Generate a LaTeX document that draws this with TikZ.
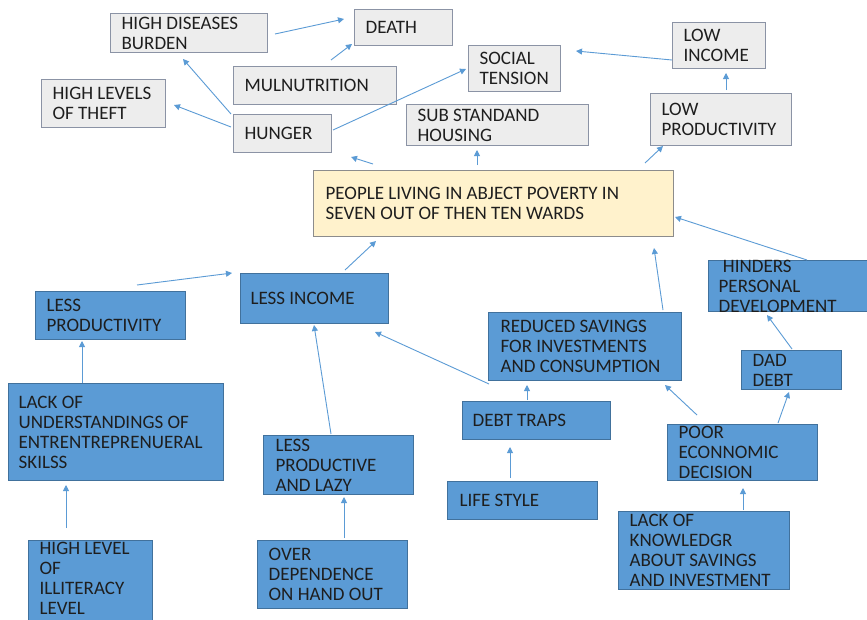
\documentclass[tikz,border=0pt]{standalone}
\usepackage{fontspec}
\setmainfont{Carlito}
\usetikzlibrary{arrows.meta}

\definecolor{greyfill}{HTML}{EDEDED}
\definecolor{greyedge}{HTML}{8B93A5}
\definecolor{bluefill}{HTML}{5B9BD5}
\definecolor{blueedge}{HTML}{41719C}
\definecolor{creamfill}{HTML}{FFF2CC}
\definecolor{creamedge}{HTML}{8C8C8C}
\definecolor{arrowblue}{HTML}{5B9BD5}
\definecolor{ink}{HTML}{1E1E1E}

% box body: width, height, text (optional left padding); text is centred vertically
\newcommand\cell[4][11]{\parbox[c][#3pt][c]{#2pt}{\fontsize{19}{20}\selectfont\raggedright\leftskip=#1pt\relax #4}}

\tikzset{
  box/.style={inner sep=0pt, line width=1.3pt, anchor=north west, text=ink},
  greybox/.style={box, fill=greyfill, draw=greyedge},
  bluebox/.style={box, fill=bluefill, draw=blueedge},
  creambox/.style={box, fill=creamfill, draw=creamedge},
  arr/.style={draw=arrowblue, line width=0.9pt, -{Triangle[length=6pt,width=6pt]}},
}

\begin{document}
\begin{tikzpicture}[x=1pt, y=-1pt]
\fill[white] (0,0) rectangle (867,619);
\useasboundingbox (0,0) rectangle (867,619);

% effects
\node[greybox] (hdb) at (110,13) {\cell{157}{39}{HIGH DISEASES\\BURDEN}};
\node[greybox] (death) at (354,9) {\cell{98}{36}{DEATH}};
\node[greybox] (muln) at (233,66) {\cell{163}{38}{MULNUTRITION}};
\node[greybox] (theft) at (41,79) {\cell{124}{48}{HIGH LEVELS\\OF THEFT}};
\node[greybox] (hunger) at (233,114) {\cell{98}{38}{HUNGER}};
\node[greybox] (social) at (468,45) {\cell{92}{46}{SOCIAL\\TENSION}};
\node[greybox] (housing) at (406,104) {\cell{182}{41}{SUB STANDAND\\HOUSING}};
\node[greybox] (lowinc) at (672,22) {\cell{93}{46}{LOW\\INCOME}};
\node[greybox] (lowprod) at (650,93) {\cell{141}{52}{LOW\\PRODUCTIVITY}};

% core problem
\node[creambox] (main) at (313,170) {\cell[12]{360}{66}{PEOPLE LIVING IN ABJECT POVERTY IN\\SEVEN OUT OF THEN TEN WARDS}};

% causes
\node[bluebox] (lessprod) at (35,291) {\cell{150}{48}{LESS\\PRODUCTIVITY}};
\node[bluebox] (lessinc) at (240,273) {\cell[10]{148}{50}{LESS INCOME}};
\node[bluebox] (lackund) at (8,383) {\cell[10]{215}{97}{LACK OF\\UNDERSTANDINGS OF\\ENTRENTREPRENUERAL\\SKILSS}};
\node[bluebox] (lazy) at (263,435) {\cell[12]{150}{59}{LESS\\PRODUCTIVE\\AND LAZY}};
\node[bluebox] (illit) at (28,540) {\cell{124}{84}{HIGH LEVEL\\OF\\ILLITERACY\\LEVEL\par\vspace{8pt}}};
\node[bluebox] (overdep) at (257,540) {\cell{150}{68}{OVER\\DEPENDENCE\\ON HAND OUT}};
\node[bluebox] (redsav) at (488,312) {\cell[12]{193}{68}{REDUCED SAVINGS\\FOR INVESTMENTS\\AND CONSUMPTION}};
\node[bluebox] (hinders) at (708,260) {\cell[10]{162}{51}{\ HINDERS\\PERSONAL\\DEVELOPMENT}};
\node[bluebox] (dad) at (741,350) {\cell{100}{39}{DAD\\DEBT}};
\node[bluebox] (debt) at (462,401) {\cell[10]{148}{38}{DEBT TRAPS}};
\node[bluebox] (life) at (447,481) {\cell[12]{150}{38}{LIFE STYLE}};
\node[bluebox] (poor) at (667,424) {\cell{150}{56}{POOR\\ECONNOMIC\\DECISION}};
\node[bluebox] (lackknow) at (618,511) {\cell{171}{78}{LACK OF\\KNOWLEDGR\\ABOUT SAVINGS\\AND INVESTMENT}};

% connectors among the effects
\draw[arr] ([shift={(165,21)}]hdb.north west) -- ([shift={(-10,10)}]death.north west);
\draw[arr] ([shift={(98,-6)}]muln.north west) -- ([shift={(-2,35)}]death.north west);
\draw[arr] ([shift={(-2,0)}]hunger.north west) -- ([shift={(73,46)}]hdb.north west);
\draw[arr] ([shift={(-2,13)}]hunger.north west) -- ([shift={(133,26)}]theft.north west);
\draw[arr] ([shift={(100,16)}]hunger.north west) -- ([shift={(-2,24)}]social.north west);
\draw[arr] ([shift={(0,38)}]lowinc.north west) -- ([shift={(108,6)}]social.north west);
\draw[arr] ([shift={(76,-3)}]lowprod.north west) -- ([shift={(54,51)}]lowinc.north west);

% core problem to effects
\draw[arr] ([shift={(60,-6)}]main.north west) -- ([shift={(118,43)}]hunger.north west);
\draw[arr] ([shift={(164,-5)}]main.north west) -- ([shift={(71,46)}]housing.north west);
\draw[arr] ([shift={(332,-7)}]main.north west) -- ([shift={(13,53)}]lowprod.north west);

% causes
\draw[arr] ([shift={(105,-3)}]lessinc.north west) -- ([shift={(63,71)}]main.north west);
\draw[arr] ([shift={(102,-6)}]lessprod.north west) -- ([shift={(-8,0)}]lessinc.north west);
\draw[arr] ([shift={(74,0)}]lackund.north west) -- ([shift={(47,50)}]lessprod.north west);
\draw[arr] ([shift={(38,-12)}]illit.north west) -- ([shift={(58,102)}]lackund.north west);
\draw[arr] ([shift={(68,-1)}]lazy.north west) -- ([shift={(74,52)}]lessinc.north west);
\draw[arr] ([shift={(87,-2)}]overdep.north west) -- ([shift={(81,62)}]lazy.north west);
\draw[arr] ([shift={(1,72)}]redsav.north west) -- ([shift={(135,59)}]lessinc.north west);
\draw[arr] ([shift={(65,-1)}]debt.north west) -- ([shift={(39,73)}]redsav.north west);
\draw[arr] ([shift={(63,-3)}]life.north west) -- ([shift={(48,46)}]debt.north west);
\draw[arr] ([shift={(175,-2)}]redsav.north west) -- ([shift={(341,78)}]main.north west);
\draw[arr] ([shift={(30,-9)}]poor.north west) -- ([shift={(177,73)}]redsav.north west);
\draw[arr] ([shift={(111,-1)}]poor.north west) -- ([shift={(48,42)}]dad.north west);
\draw[arr] ([shift={(51,-1)}]dad.north west) -- ([shift={(59,55)}]hinders.north west);
\draw[arr] ([shift={(99,0)}]hinders.north west) -- ([shift={(362,47)}]main.north west);
\draw[arr] ([shift={(125,-1)}]lackknow.north west) -- ([shift={(76,64)}]poor.north west);
\end{tikzpicture}
\end{document}
